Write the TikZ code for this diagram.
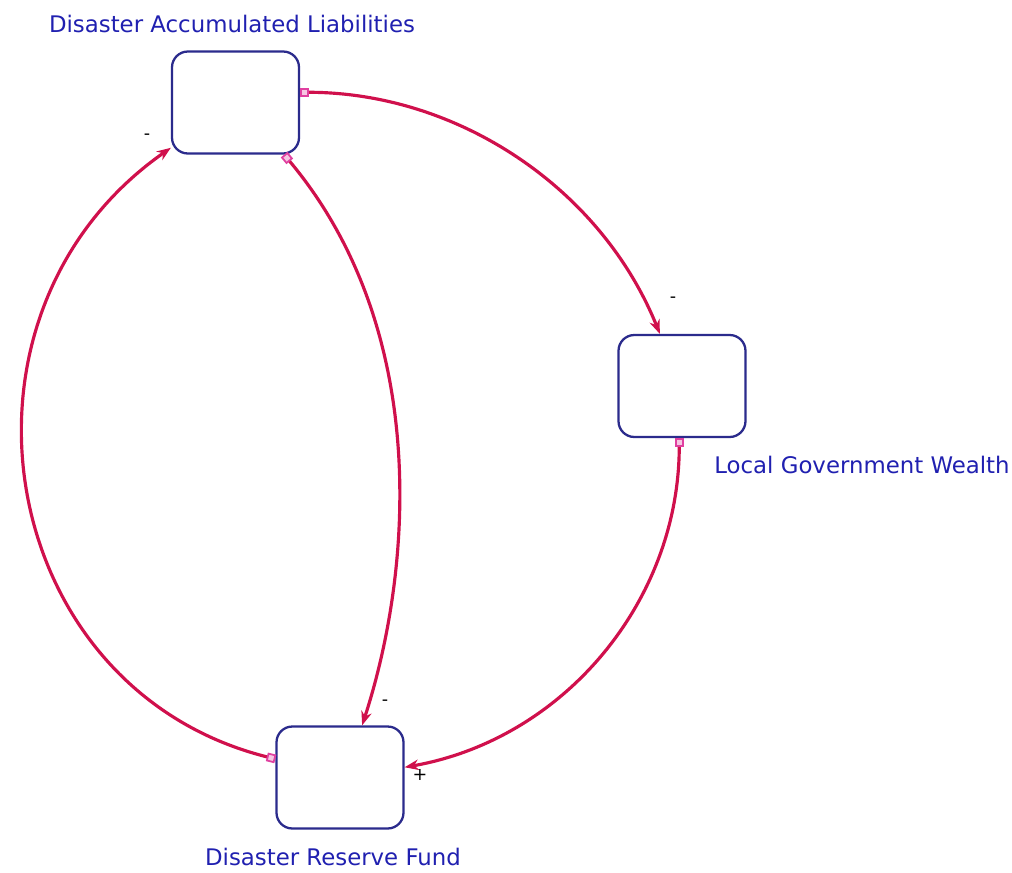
\documentclass[tikz,border=0pt]{standalone}
\usepackage{fontspec}
\setsansfont{DejaVu Sans}
\usepackage{xcolor}
\usetikzlibrary{shapes, positioning, arrows.meta}

\definecolor{boxnavy}{HTML}{2B2B8C}
\definecolor{labelblue}{HTML}{2020B0}
\definecolor{linkred}{HTML}{D0104C}
\definecolor{portpink}{HTML}{E040A0}

\tikzset{
    level/.style={draw=boxnavy, line width=1.3pt, rounded corners=9pt, fill=white,
        minimum width=2.54cm, minimum height=2.04cm, inner sep=0pt},
    name label/.style={text=labelblue, font=\sffamily\fontsize{13}{15}\selectfont, inner sep=0pt},
    sign/.style={text=black, font=\sffamily\fontsize{10}{12}\selectfont, inner sep=0pt},
    link/.style={draw=linkred, line width=1.8pt,
        {Square[color=portpink, fill=portpink!30, line width=1pt, length=5pt, width=5pt]}-{Stealth[length=8pt, width=6pt]}},
}

\begin{document}
\begin{tikzpicture}[x=0.02cm, y=0.02cm]
        \useasboundingbox (0, 0) rectangle (1012, -873);

        \node[level] (dal) at (235.5, -102.5) {};
        \node[level] (lgw) at (682, -386) {};
        \node[level] (drf) at (340, -777.5) {};

        \node[name label] (dal label) at (232, -24) {Disaster Accumulated Liabilities};
        \node[name label, anchor=west] (lgw label) at (714, -465) {Local Government Wealth};
        \node[name label] (drf label) at (333, -857) {Disaster Reserve Fund};

        \draw[link] (dal.9) to[out=0, in=112, looseness=0.93] (lgw.113);
        \draw[link] (lgw.-93) to[out=-90, in=10, looseness=0.97] (drf.9);
        \draw[link] (dal.-47) to[out=-50, in=72, out looseness=1.0, in looseness=0.75] (drf.67);
        \draw[link] (drf.164) to[out=166, in=-145, looseness=1.2] (dal.-145);

        \node[sign] (s1) at (673, -300) {-};
        \node[sign] (s2) at (420, -775) {+};
        \node[sign] (s3) at (385, -703) {-};
        \node[sign] (s4) at (147, -137) {-};
    \end{tikzpicture}
\end{document}
